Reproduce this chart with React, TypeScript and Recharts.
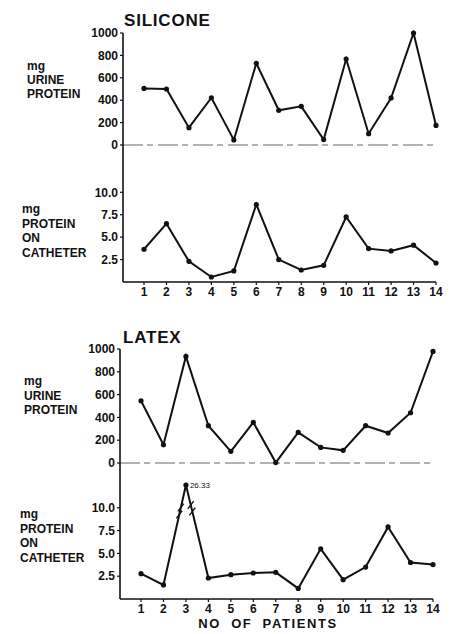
import React from 'react';
import { LineChart, Line, XAxis, YAxis, ReferenceLine, ReferenceDot } from 'recharts';

const patients = [1, 2, 3, 4, 5, 6, 7, 8, 9, 10, 11, 12, 13, 14];
const siliconeUrine = [505, 500, 155, 422, 45, 730, 310, 345, 48, 768, 101, 420, 1000, 175];
const siliconeCatheter = [3.65, 6.5, 2.3, 0.56, 1.23, 8.64, 2.5, 1.34, 1.86, 7.25, 3.72, 3.46, 4.1, 2.12];
const latexUrine = [546, 160, 935, 327, 102, 356, 4, 268, 137, 111, 327, 263, 441, 979];
const latexCatheter = [2.78, 1.54, 12.5, 2.3, 2.67, 2.85, 2.92, 1.16, 5.5, 2.12, 3.5, 7.9, 4.0, 3.77];
const latexCatheterBreakIndex = 2;
const latexCatheterBreakLabel = '26.33';
const urineTicks = [0, 200, 400, 600, 800, 1000];
const catheterTicks = [2.5, 5, 7.5, 10];
const urineLabel = ['mg', 'URINE', 'PROTEIN'];
const catheterLabel = ['mg', 'PROTEIN', 'ON', 'CATHETER'];
const titles = ['SILICONE', 'LATEX'];
const xTitle = 'NO OF PATIENTS';

const FONT = '"Liberation Sans", Arial, Helvetica, sans-serif';
const INK = '#111';
const X_DOMAIN: [number, number] = [0.065, 14];
const TICK_STYLE = { fill: INK, fontSize: 12, fontFamily: FONT, fontWeight: 'bold' as const };

const rows = (vals: number[]) => patients.map((p, i) => ({ patient: p, value: vals[i] }));

type PanelProps = {
  top: number;
  height: number;
  plotLeft: number;
  plotRight: number;
  marginTop: number;
  marginBottom: number;
  values: number[];
  yDomain: [number, number];
  yTicks: number[];
  fmt?: (v: number) => string;
  showX: boolean;
  xHeight?: number;
  zeroLine?: boolean;
  extras?: React.ReactNode;
};

function Panel(p: PanelProps) {
  return (
    <div style={{ position: 'absolute', left: 0, top: p.top }}>
      <LineChart
        width={454}
        height={p.height}
        data={rows(p.values)}
        margin={{ top: p.marginTop, right: 454 - p.plotRight, bottom: p.marginBottom, left: 0 }}
        style={{ overflow: 'visible' }}
      >
        <XAxis
          type="number"
          dataKey="patient"
          domain={X_DOMAIN}
          ticks={patients}
          interval={0}
          hide={!p.showX}
          height={p.xHeight ?? 20}
          tickSize={3}
          axisLine={{ stroke: INK, strokeWidth: 1.6 }}
          tickLine={{ stroke: INK, strokeWidth: 1.2 }}
          tick={TICK_STYLE}
        />
        <YAxis
          type="number"
          domain={p.yDomain}
          ticks={p.yTicks}
          interval={0}
          width={p.plotLeft}
          tickSize={3}
          tickFormatter={p.fmt}
          axisLine={{ stroke: INK, strokeWidth: 1.6 }}
          tickLine={{ stroke: INK, strokeWidth: 1.2 }}
          tick={TICK_STYLE}
        />
        {p.zeroLine && (
          <ReferenceLine y={0} stroke="#666" strokeWidth={1.2} strokeDasharray="20 4 6 5" />
        )}
        <Line
          type="linear"
          dataKey="value"
          stroke={INK}
          strokeWidth={2}
          dot={{ r: 2.6, fill: INK, stroke: INK, strokeWidth: 0 }}
          isAnimationActive={false}
        />
        {p.extras}
      </LineChart>
    </div>
  );
}

function TextBlock({ lines, left, top, lh }: { lines: string[]; left: number; top: number; lh: number }) {
  return (
    <div style={{ position: 'absolute', left, top, fontSize: 12, fontWeight: 'bold', lineHeight: `${lh}px`, color: INK, fontFamily: FONT, whiteSpace: 'nowrap' }}>
      {lines.map((l) => (
        <div key={l}>{l}</div>
      ))}
    </div>
  );
}

// break marks "//" on the segments into and out of the broken point
function breakMarks(values: number[], idx: number) {
  const pts: { x: number; y: number }[] = [];
  const along = (i0: number, i1: number, t: number) => ({
    x: patients[i0] + t * (patients[i1] - patients[i0]),
    y: values[i0] + t * (values[i1] - values[i0]),
  });
  [
    [idx - 1, idx, 0.74],
    [idx, idx + 1, 0.25],
  ].forEach(([a, b, t]) => {
    pts.push(along(a, b, t - 0.035));
    pts.push(along(a, b, t + 0.035));
  });
  const dx = 0.13;
  const dy = 0.42;
  return pts.map((c, i) => (
    <ReferenceLine
      key={`brk${i}`}
      segment={[
        { x: c.x - dx, y: c.y - dy },
        { x: c.x + dx, y: c.y + dy },
      ]}
      stroke={INK}
      strokeWidth={1.4}
      ifOverflow="visible"
    />
  ));
}

export default function App() {
  const fmt1 = (v: number) => v.toFixed(1);
  const titleStyle: React.CSSProperties = { position: 'absolute', fontSize: 17, fontWeight: 'bold', letterSpacing: 0.8, color: INK, fontFamily: FONT };
  return (
    <div style={{ position: 'absolute', left: 0, top: 0, width: 454, height: 634, background: '#fff', fontFamily: FONT, overflow: 'hidden' }}>
      <div style={{ ...titleStyle, left: 124, top: 11 }}>{titles[0]}</div>
      <div style={{ ...titleStyle, left: 123, top: 328 }}>{titles[1]}</div>

      <TextBlock lines={urineLabel} left={27} top={59} lh={14} />
      <TextBlock lines={catheterLabel} left={22} top={202} lh={14.5} />
      <TextBlock lines={urineLabel} left={24} top={374} lh={14.5} />
      <TextBlock lines={catheterLabel} left={20} top={507} lh={14.6} />

      <Panel
        top={0}
        height={158}
        plotLeft={123}
        plotRight={436}
        marginTop={33}
        marginBottom={13}
        values={siliconeUrine}
        yDomain={[0, 1000]}
        yTicks={urineTicks}
        showX={false}
        zeroLine
      />
      <Panel
        top={145}
        height={160}
        plotLeft={123}
        plotRight={436}
        marginTop={0}
        marginBottom={0}
        values={siliconeCatheter}
        yDomain={[0, 15.27]}
        yTicks={catheterTicks}
        fmt={fmt1}
        showX
        xHeight={23}
      />
      <Panel
        top={316}
        height={160}
        plotLeft={120}
        plotRight={433}
        marginTop={33}
        marginBottom={13}
        values={latexUrine}
        yDomain={[0, 1000]}
        yTicks={urineTicks}
        showX={false}
        zeroLine
      />
      <Panel
        top={463}
        height={171}
        plotLeft={120}
        plotRight={433}
        marginTop={0}
        marginBottom={0}
        values={latexCatheter}
        yDomain={[0, 14.91]}
        yTicks={catheterTicks}
        fmt={fmt1}
        showX
        xHeight={35}
        extras={[
          ...breakMarks(latexCatheter, latexCatheterBreakIndex),
          <ReferenceDot
            key="brklabel"
            x={patients[latexCatheterBreakIndex]}
            y={latexCatheter[latexCatheterBreakIndex]}
            r={0}
            fill="none"
            stroke="none"
            label={{ value: latexCatheterBreakLabel, position: 'right', fontSize: 8, fill: INK, fontFamily: FONT, offset: 4 }}
          />,
        ]}
      />

      <div style={{ position: 'absolute', left: 0, width: 536, top: 616, textAlign: 'center', fontSize: 13, fontWeight: 'bold', letterSpacing: 1.6, wordSpacing: 5, color: INK, fontFamily: FONT, whiteSpace: 'nowrap' }}>
        {xTitle}
      </div>
    </div>
  );
}
